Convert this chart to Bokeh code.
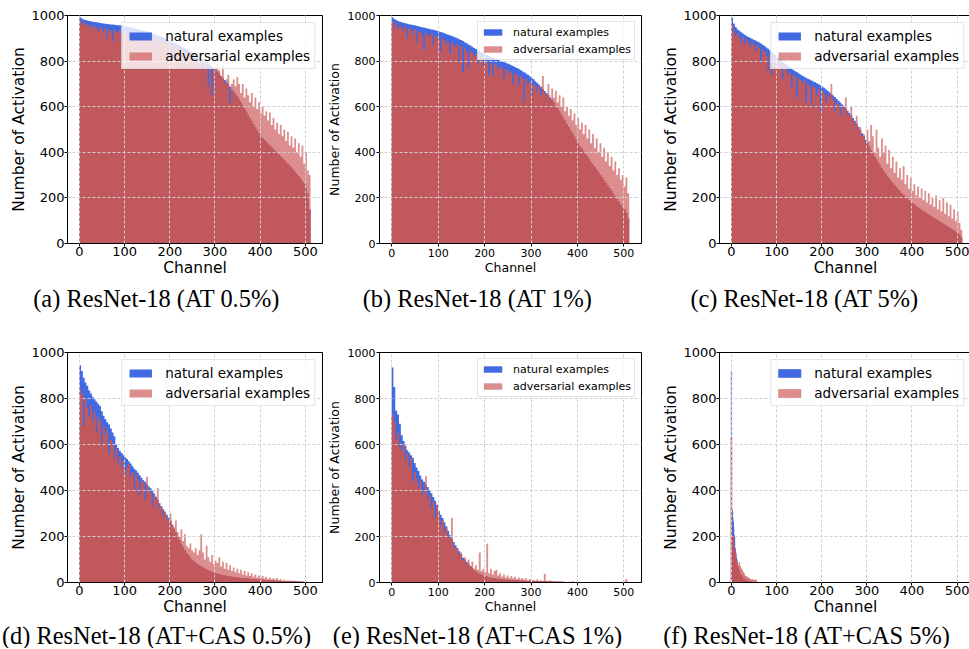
from bokeh.plotting import figure
from bokeh.layouts import column, row
from bokeh.models import Range1d, FixedTicker, Legend, LegendItem
from bokeh.core.properties import value
from bokeh.embed import file_html
from bokeh.resources import INLINE

# ---------------- data (channels grouped in bins of 4, except panel f: per channel) ----------------
x_ticks = [0, 100, 200, 300, 400, 500]
y_ticks = [0, 200, 400, 600, 800, 1000]

a_natural = [992, 987, 983, 980, 978, 976, 975, 973, 971, 970, 969, 967, 966, 965, 964, 963,
             962, 961, 960, 959, 958, 957, 957, 956, 955, 954, 952, 950, 948, 946, 944, 942,
             940, 938, 936, 934, 932, 930, 927, 924, 921, 918, 915, 912, 909, 906, 903, 900,
             896, 892, 888, 884, 880, 876, 872, 868, 864, 860, 856, 852, 848, 843, 838, 833,
             828, 823, 818, 813, 808, 802, 796, 790, 783, 776, 769, 762, 753, 744, 735, 726,
             717, 707, 697, 687, 677, 667, 657, 645, 632, 619, 606, 592, 578, 564, 550, 536,
             522, 509, 496, 483, 470, 462, 454, 446, 438, 430, 422, 414, 406, 398, 390, 382,
             374, 366, 358, 350, 341, 332, 323, 314, 305, 295, 285, 274, 262, 248, 220, 150]
a_adversarial = [978, 960, 970, 955, 962, 948, 958, 940, 952, 945, 930, 948, 940, 925, 945, 900,
                 938, 930, 885, 936, 928, 920, 935, 880, 930, 925, 915, 905, 928, 920, 890, 925,
                 918, 870, 920, 910, 905, 915, 860, 905, 900, 895, 880, 900, 850, 890, 880, 875,
                 885, 840, 875, 870, 800, 862, 855, 830, 850, 845, 780, 840, 830, 820, 770, 825,
                 815, 790, 808, 800, 760, 795, 780, 690, 775, 650, 760, 770, 786, 760, 730, 778,
                 700, 720, 740, 615, 700, 720, 690, 730, 700, 660, 700, 640, 680, 650, 620, 660,
                 600, 640, 590, 620, 570, 600, 560, 580, 540, 575, 520, 550, 500, 530, 480, 520,
                 470, 500, 450, 490, 430, 470, 420, 460, 400, 440, 380, 430, 350, 400, 320, 300]

b_natural = [992, 985, 980, 976, 973, 970, 968, 966, 964, 962, 960, 958, 957, 955, 953, 951,
             949, 947, 945, 943, 941, 939, 937, 935, 933, 931, 928, 925, 922, 919, 916, 913,
             910, 907, 904, 900, 896, 892, 888, 883, 878, 873, 868, 863, 858, 853, 848, 843,
             838, 834, 830, 826, 822, 818, 814, 811, 808, 805, 802, 799, 796, 793, 790, 786,
             782, 778, 774, 770, 766, 761, 756, 751, 746, 740, 734, 728, 720, 712, 704, 696,
             687, 678, 669, 660, 650, 640, 630, 620, 608, 594, 580, 566, 552, 538, 524, 510,
             496, 482, 468, 454, 440, 428, 417, 405, 393, 382, 370, 358, 347, 335, 323, 312,
             300, 289, 278, 266, 255, 243, 231, 219, 207, 195, 183, 170, 160, 150, 135, 110]
b_adversarial = [975, 950, 965, 940, 955, 945, 930, 950, 900, 945, 935, 920, 940, 880, 930, 925,
                 910, 850, 925, 915, 905, 920, 870, 910, 905, 895, 840, 900, 890, 870, 885, 830,
                 880, 870, 860, 875, 800, 865, 750, 855, 840, 770, 845, 835, 820, 830, 790, 820,
                 810, 780, 800, 795, 740, 790, 735, 785, 780, 760, 775, 770, 720, 765, 760, 745,
                 750, 700, 745, 740, 690, 735, 725, 620, 720, 700, 710, 640, 700, 690, 665, 690,
                 650, 735, 660, 650, 700, 630, 680, 640, 670, 620, 650, 600, 640, 580, 600, 560,
                 590, 540, 570, 520, 550, 500, 530, 480, 520, 460, 500, 440, 480, 420, 460, 400,
                 440, 380, 420, 360, 400, 340, 380, 320, 360, 300, 330, 280, 300, 250, 290, 220]

c_natural = [990, 965, 950, 940, 933, 927, 921, 916, 911, 906, 902, 898, 894, 890, 886, 882,
             877, 872, 866, 860, 854, 847, 840, 833, 826, 819, 812, 805, 798, 791, 785, 779,
             773, 767, 761, 756, 751, 746, 741, 736, 731, 727, 723, 719, 715, 711, 707, 703,
             699, 694, 689, 683, 677, 670, 663, 656, 649, 642, 634, 626, 618, 610, 601, 592,
             582, 572, 561, 550, 538, 525, 512, 498, 484, 470, 455, 440, 425, 410, 396, 382,
             368, 355, 342, 330, 318, 307, 296, 285, 275, 265, 256, 247, 238, 229, 221, 213,
             205, 198, 191, 184, 177, 171, 165, 159, 153, 147, 142, 137, 132, 127, 122, 117,
             112, 107, 102, 97, 92, 87, 82, 77, 72, 67, 62, 57, 52, 46, 38, 25]
c_adversarial = [960, 930, 910, 920, 900, 880, 905, 870, 895, 880, 860, 885, 870, 840, 870, 855,
                 800, 850, 840, 820, 760, 830, 740, 810, 800, 770, 795, 785, 720, 775, 760, 740,
                 750, 680, 740, 730, 640, 725, 715, 700, 715, 620, 705, 690, 600, 690, 680, 650,
                 675, 580, 670, 660, 620, 650, 640, 700, 630, 580, 620, 610, 560, 600, 590, 640,
                 570, 560, 600, 540, 520, 560, 500, 510, 470, 480, 440, 500, 450, 520, 470, 400,
                 500, 420, 380, 460, 400, 430, 350, 410, 330, 380, 310, 360, 290, 330, 280, 340,
                 260, 300, 240, 290, 230, 260, 210, 250, 200, 240, 190, 230, 180, 220, 170, 200,
                 160, 210, 150, 190, 140, 200, 130, 180, 120, 170, 110, 150, 100, 140, 90, 60]

d_natural = [945, 920, 890, 870, 855, 835, 822, 808, 797, 787, 777, 767, 745, 725, 710, 697,
             687, 670, 652, 635, 600, 585, 573, 563, 553, 545, 537, 527, 517, 505, 495, 487,
             477, 466, 455, 445, 438, 427, 418, 410, 398, 387, 373, 360, 345, 330, 318, 306,
             295, 282, 268, 252, 234, 216, 198, 184, 168, 154, 140, 128, 118, 108, 98, 92,
             86, 80, 75, 70, 65, 61, 57, 53, 50, 47, 44, 41, 38, 36, 34, 32,
             30, 29, 28, 26, 25, 24, 23, 22, 21, 20, 19, 18, 18, 17, 16, 15,
             15, 14, 13, 13, 12, 12, 11, 11, 10, 10, 9, 9, 8, 8, 8, 7,
             7, 6, 6, 6, 5, 5, 5, 4, 4, 4, 3, 3, 2, 2, 2, 1]
d_adversarial = [840, 820, 680, 800, 760, 720, 770, 700, 740, 650, 720, 700, 600, 680, 640, 660,
                 560, 620, 600, 540, 580, 520, 550, 500, 530, 470, 500, 515, 460, 480, 400, 470,
                 450, 380, 440, 430, 360, 460, 400, 390, 330, 380, 360, 410, 320, 330, 290, 310,
                 280, 270, 300, 250, 240, 270, 220, 200, 230, 180, 210, 160, 150, 170, 140, 130,
                 150, 120, 140, 210, 130, 100, 160, 110, 90, 120, 80, 95, 85, 110, 70, 90,
                 60, 85, 55, 75, 50, 65, 45, 60, 40, 55, 35, 50, 30, 45, 28, 40,
                 25, 35, 22, 30, 20, 28, 18, 25, 15, 22, 14, 18, 12, 20, 10, 15,
                 8, 12, 7, 10, 6, 9, 5, 8, 4, 6, 3, 5, 2, 4, 1, 2]

e_natural = [935, 850, 748, 730, 690, 640, 615, 595, 575, 565, 553, 542, 520, 500, 485, 465,
             448, 438, 425, 415, 400, 388, 372, 355, 338, 312, 295, 280, 262, 245, 225, 205,
             190, 176, 162, 150, 136, 122, 108, 100, 90, 82, 72, 62, 54, 47, 42, 38,
             34, 30, 27, 25, 23, 21, 19, 18, 17, 16, 15, 14, 13, 12, 12, 11,
             11, 10, 10, 9, 9, 8, 8, 8, 7, 7, 7, 6, 6, 6, 5, 5,
             5, 5, 4, 4, 4, 4, 4, 3, 3, 3, 3, 3, 3, 2, 2, 2,
             2, 2, 2, 2, 2, 2, 1, 1, 1, 1, 1, 1, 1, 1, 1, 1,
             1, 1, 1, 1, 1, 1, 1, 1, 0, 0, 0, 0, 0, 0, 0, 0]
e_adversarial = [730, 700, 620, 650, 590, 570, 600, 530, 560, 500, 540, 440, 480, 450, 410, 440,
                 380, 400, 462, 360, 380, 320, 350, 280, 330, 300, 250, 270, 220, 240, 200, 190,
                 281, 160, 150, 140, 120, 130, 95, 110, 80, 100, 70, 90, 60, 75, 55, 130,
                 50, 60, 45, 168, 40, 60, 35, 50, 55, 30, 40, 25, 35, 22, 30, 20,
                 28, 18, 25, 15, 22, 14, 20, 12, 18, 10, 15, 9, 12, 8, 14, 7,
                 10, 6, 38, 8, 5, 10, 4, 7, 3, 6, 3, 5, 2, 4, 2, 3,
                 2, 6, 1, 3, 1, 2, 1, 2, 1, 1, 0, 2, 0, 1, 3, 0,
                 1, 0, 2, 0, 1, 3, 0, 1, 0, 2, 0, 1, 0, 4, 15, 0]

f_natural = [918, 318, 310, 280, 266, 240, 205, 195, 150, 135, 125, 106, 100, 72, 70, 66,
             55, 50, 42, 36, 30, 26, 20, 16, 14, 12, 10, 8, 7, 6, 5, 4,
             4, 3, 3, 2, 2, 2, 1, 1, 1, 1, 1, 1, 0, 0, 0, 0,
             0, 0, 0, 0, 0, 0, 0, 0, 0, 0, 0, 0, 0, 0, 0, 0]
f_adversarial = [632, 205, 190, 170, 150, 200, 120, 100, 140, 80, 110, 70, 90, 60, 85, 50,
                 75, 45, 88, 40, 70, 35, 60, 30, 55, 25, 45, 20, 40, 18, 30, 15,
                 28, 12, 25, 10, 22, 8, 20, 6, 18, 5, 15, 4, 12, 3, 14, 2,
                 10, 2, 12, 1, 10, 1, 8, 12, 0, 0, 0, 0, 0, 0, 0, 0]

captions_top = ["(a) ResNet-18 (AT 0.5%)", "(b) ResNet-18 (AT 1%)", "(c) ResNet-18 (AT 5%)"]
captions_bottom = ["(d) ResNet-18 (AT+CAS 0.5%)", "(e) ResNet-18 (AT+CAS 1%)",
                   "(f) ResNet-18 (AT+CAS 5%)"]
legend_labels = ["natural examples", "adversarial examples"]

BLUE = "#4169E1"
RED = "#CD5C5C"      # adversarial bars (drawn with alpha)
RED_ALPHA = 0.7
OVERLAP = "#C0585E"  # appearance where the adversarial bars cover the natural ones
TOTAL_W = 967


def panel(nat, adv, binw, xr, big, fw, fh, mbl, mbr, mbt, mbb):
    tick_fs = "13px" if big else "11px"
    lab_fs = "15.5px" if big else "12.5px"
    leg_fs = "13.5px" if big else "11px"
    p = figure(frame_width=fw, frame_height=fh, min_border_left=mbl, min_border_right=mbr,
               min_border_top=mbt, min_border_bottom=mbb,
               x_range=Range1d(xr[0], xr[1]), y_range=Range1d(0, 1000),
               output_backend="svg", toolbar_location=None,
               background_fill_color="white", border_fill_color="white")
    both = [min(n, a) for n, a in zip(nat, adv)]
    if binw > 1:
        edges = [binw * k - 0.5 for k in range(len(nat) + 1)]
        r1 = p.varea_step(x=edges, y1=0, y2=nat + [nat[-1]], step_mode="after",
                          fill_color=BLUE)
        r2 = p.varea_step(x=edges, y1=0, y2=adv + [adv[-1]], step_mode="after",
                          fill_color=RED, fill_alpha=RED_ALPHA)
        p.varea_step(x=edges, y1=0, y2=both + [both[-1]], step_mode="after",
                     fill_color=OVERLAP)
    else:
        xs = list(range(len(nat)))
        r1 = p.vbar(x=xs, top=nat, bottom=0, width=1.0, fill_color=BLUE, line_color=BLUE,
                    line_width=0.6)
        r2 = p.vbar(x=xs, top=adv, bottom=0, width=1.0, fill_color=RED, fill_alpha=RED_ALPHA,
                    line_color=RED, line_alpha=RED_ALPHA, line_width=0.6)
        p.vbar(x=xs, top=both, bottom=0, width=1.0, fill_color=OVERLAP, line_color=OVERLAP,
               line_width=0.6)

    p.xaxis.ticker = FixedTicker(ticks=x_ticks)
    p.yaxis.ticker = FixedTicker(ticks=y_ticks)
    p.xaxis.axis_label = "Channel"
    p.yaxis.axis_label = "Number of Activation"
    for ax in (p.xaxis[0], p.yaxis[0]):
        ax.axis_label_text_font = "DejaVu Sans"
        ax.axis_label_text_font_style = "normal"
        ax.axis_label_text_font_size = lab_fs
        ax.axis_label_text_color = "black"
        ax.major_label_text_font = "DejaVu Sans"
        ax.major_label_text_font_size = tick_fs
        ax.major_label_text_color = "black"
        ax.major_tick_out = 3
        ax.major_tick_in = 0
        ax.minor_tick_out = 0
        ax.minor_tick_in = 0
        ax.axis_line_color = "black"
        ax.axis_line_width = 1
        ax.major_tick_line_color = "black"
    if big:
        p.xaxis.major_label_standoff = 0
        p.xaxis.axis_label_standoff = 0
        p.yaxis.major_label_standoff = 0
        p.yaxis.axis_label_standoff = 0
    else:
        p.xaxis.major_label_standoff = 2
        p.xaxis.axis_label_standoff = 0
        p.yaxis.major_label_standoff = 1
        p.yaxis.axis_label_standoff = 3
    for g in (p.xgrid[0], p.ygrid[0]):
        g.grid_line_color = "#d0d0d0"
        g.grid_line_dash = "3 2"
        g.grid_line_width = 1
        g.level = "guide"
    p.outline_line_color = "black"
    p.outline_line_width = 1

    leg = Legend(items=[LegendItem(label=legend_labels[0], renderers=[r1]),
                        LegendItem(label=legend_labels[1], renderers=[r2])],
                 location="top_right",
                 label_text_font="DejaVu Sans", label_text_font_size=leg_fs,
                 label_text_color="black",
                 glyph_width=28 if big else 23, glyph_height=10 if big else 8,
                 label_standoff=11 if big else 9, label_height=17 if big else 14,
                 spacing=3, padding=4 if big else 3, margin=7 if big else 6,
                 border_line_color="#cccccc", border_line_width=1,
                 background_fill_color="white", background_fill_alpha=0.8)
    p.add_layout(leg)
    return p


def caption_strip(texts, centers, height, y_from_top):
    s = figure(width=TOTAL_W, height=height, min_border=0, x_range=Range1d(0, TOTAL_W),
               y_range=Range1d(0, height), x_axis_type=None, y_axis_type=None,
               output_backend="svg", toolbar_location=None, outline_line_color=None,
               background_fill_color="white", border_fill_color="white")
    s.grid.visible = False
    s.text(x=centers, y=[height - y_from_top] * len(texts), text=texts,
           text_align="center", text_baseline="middle",
           text_font=value("Liberation Serif"), text_font_size=value("24.4px"),
           text_color="black")
    return s


pa = panel(a_natural, a_adversarial, 4, (-26.5, 538), True, 255, 228, 67, 1, 15, 42)
pb = panel(b_natural, b_adversarial, 4, (-26.5, 538), False, 262, 228, 51, 14, 15, 42)
pc = panel(c_natural, c_adversarial, 4, (-26.5, 532), True, 252, 228, 64, 1, 15, 42)
pd = panel(d_natural, d_adversarial, 4, (-26.5, 538), True, 255, 230, 67, 1, 35, 40)
pe = panel(e_natural, e_adversarial, 4, (-26.5, 538), False, 262, 230, 51, 14, 35, 40)
pf = panel(f_natural, f_adversarial, 1, (-26.5, 532), True, 252, 230, 64, 1, 35, 40)

cap1 = caption_strip(captions_top, [156, 477, 804], 32, 13)
cap2 = caption_strip(captions_bottom, [156, 477, 806], 26, 13)

layout = column(row(pa, pb, pc), cap1, row(pd, pe, pf), cap2)
open("out.html", "w").write(file_html(layout, INLINE))
